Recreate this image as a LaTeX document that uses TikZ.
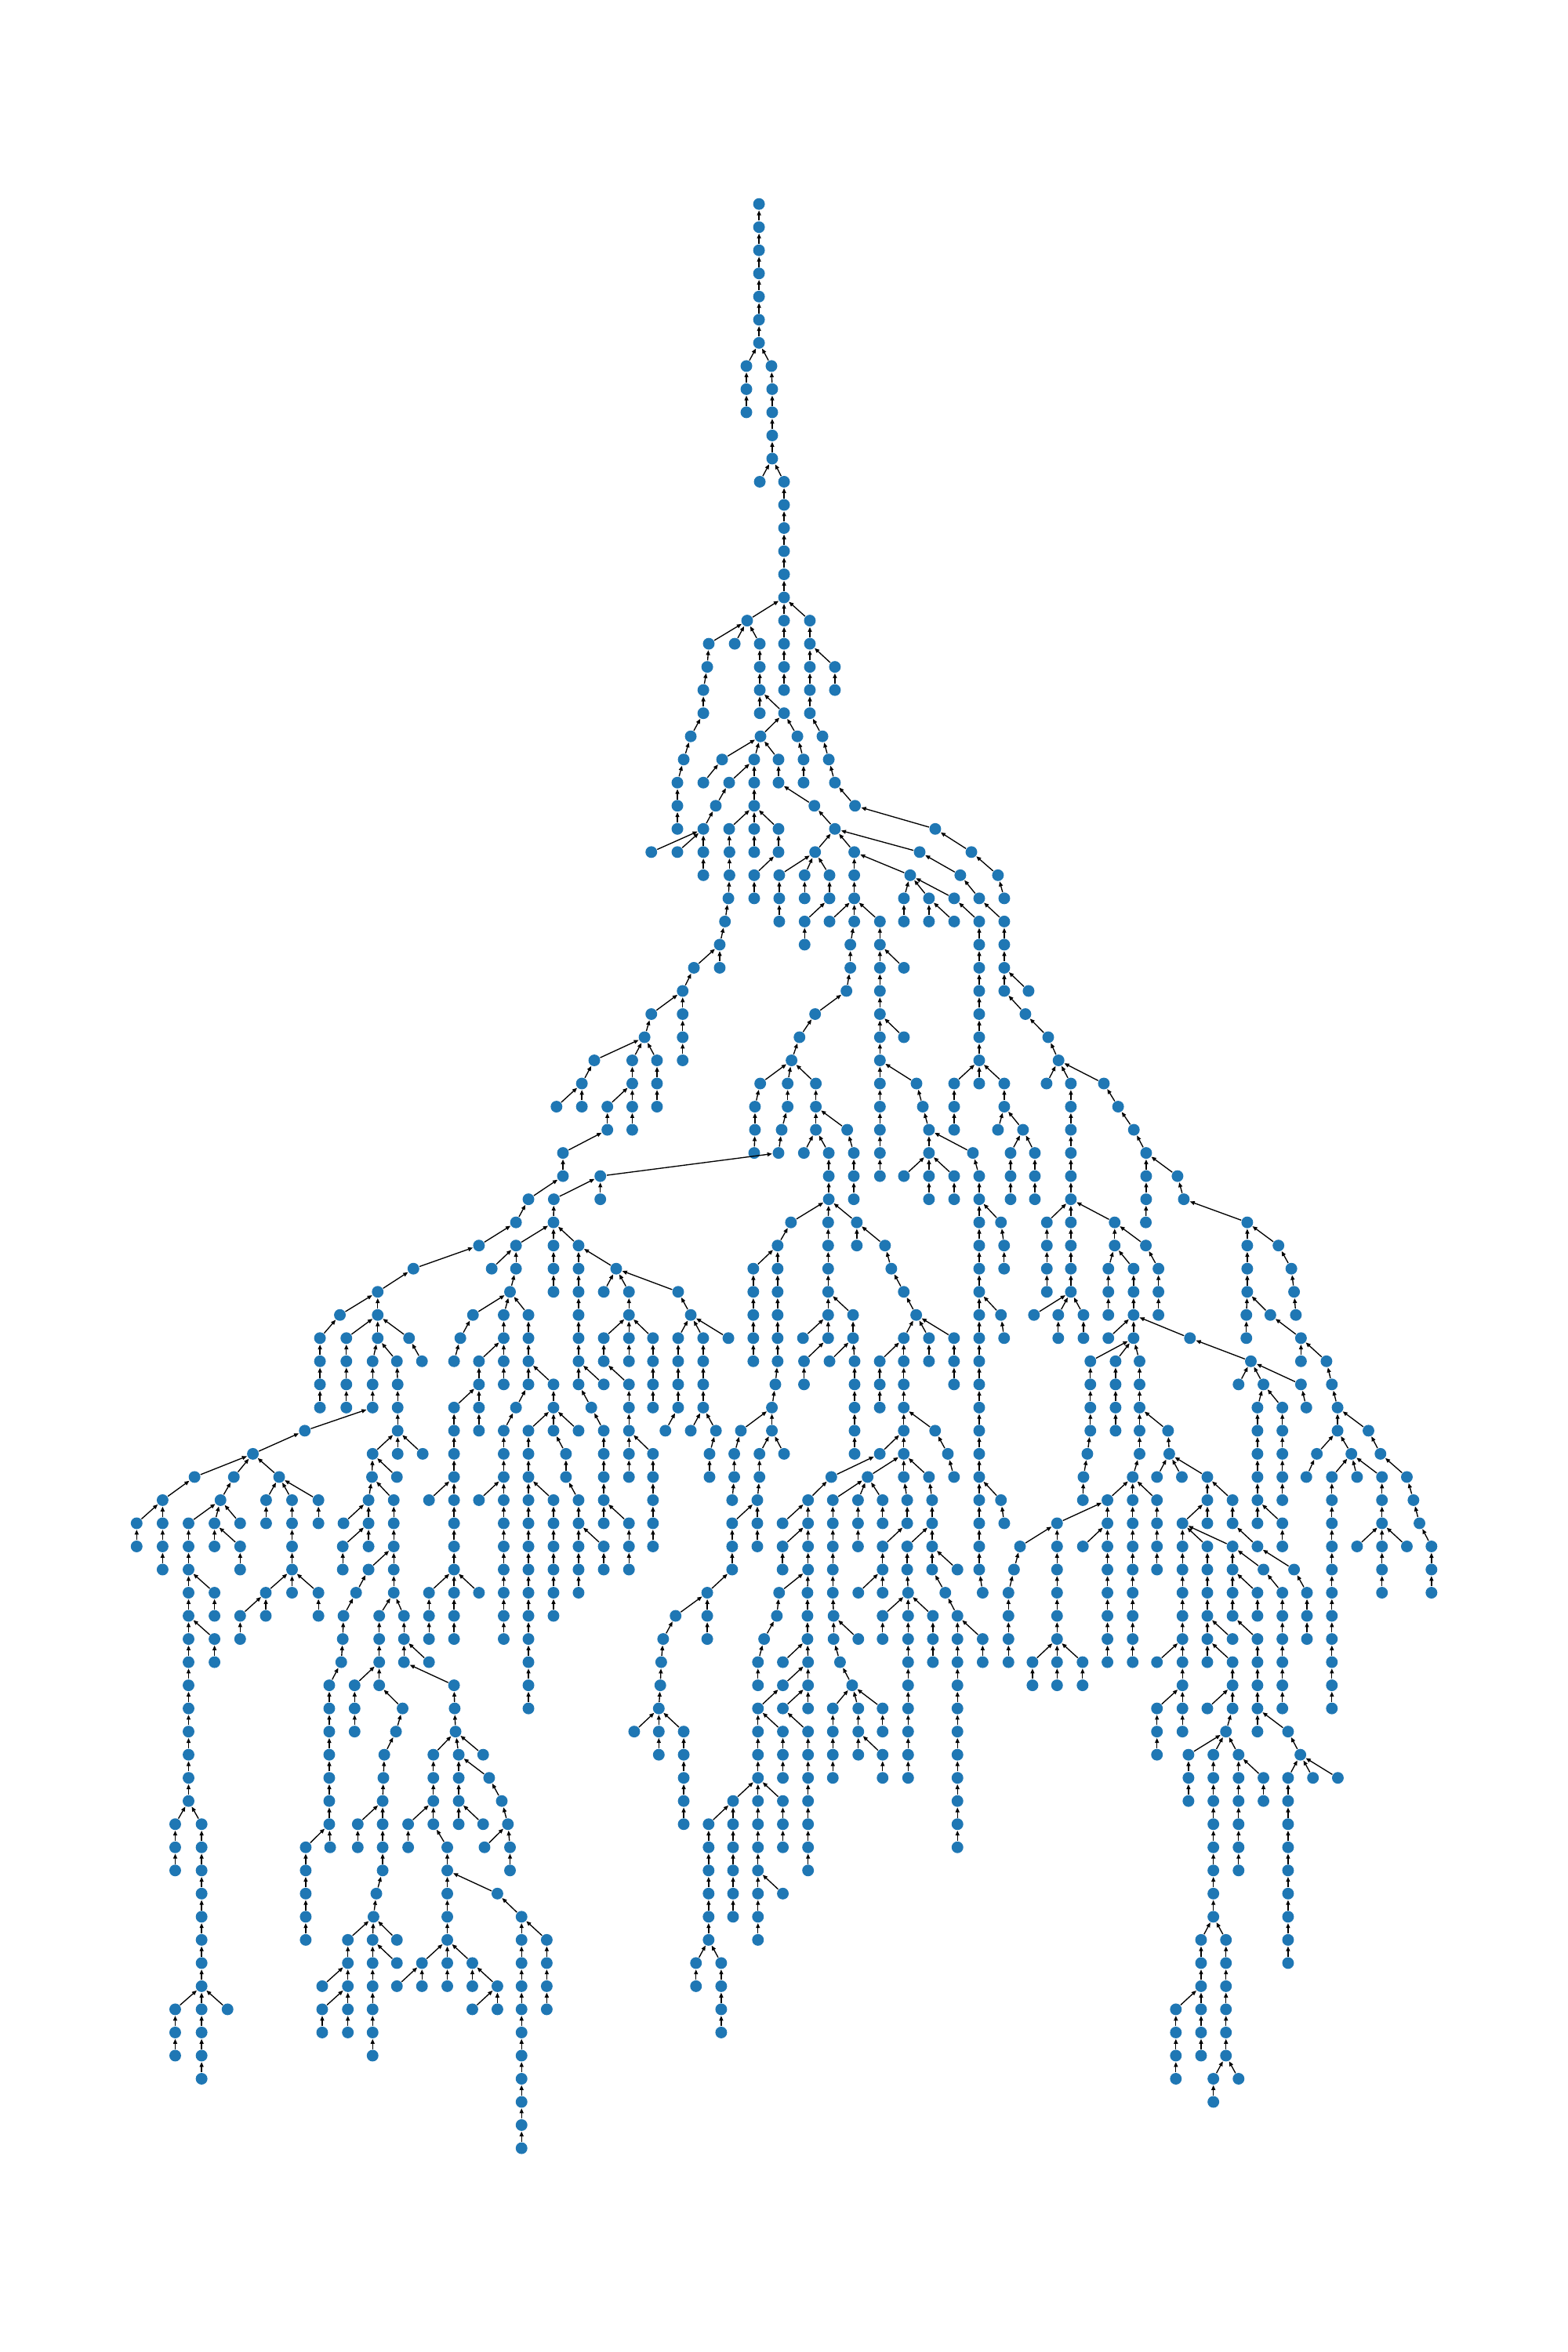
\documentclass[tikz,border=0pt]{standalone}
\usetikzlibrary{arrows.meta}
\definecolor{nxblue}{RGB}{31,119,180}
\tikzset{
  nd/.style={circle, fill=nxblue, draw=none, inner sep=0pt, minimum size=3.9pt},
  arr/.style={-{Triangle[length=1.6pt,width=1.3pt]}, line width=0.35pt, black},
}
\def\nodelist{1/506/0/0,2/506/1/1,3/506/2/2,4/506/3/3,5/506/4/4,6/506/5/5,7/506/6/6,8/497.6/7/7,9/497.6/8/8,10/497.6/9/9,
11/514.3/7/7,12/514.8/8/11,13/514.8/9/12,14/514.8/10/13,15/514.8/11/14,16/506.5/12/15,17/522.7/12/15,18/522.7/13/17,19/522.7/14/18,20/522.7/15/19,
21/522.7/16/20,22/522.7/17/21,23/498.1/18/22,24/522.7/18/22,25/539.9/18/22,26/472.5/19/23,27/489.8/19/23,28/506.5/19/23,29/522.7/19/24,30/522.7/20/29,
31/522.7/21/30,32/539.9/19/25,33/539.9/20/32,34/556.6/20/32,35/556.6/21/34,36/539.9/21/33,37/539.9/22/36,38/548.3/23/37,39/552.5/24/38,40/556.6/25/39,
41/570.0/26/40,42/623.5/27/41,43/471.5/20/26,44/468.9/21/43,45/468.9/22/44,46/460.5/23/45,47/455.8/24/46,48/451.6/25/47,49/451.6/26/48,50/451.6/27/49,
51/506.5/20/28,52/506.5/21/51,53/506.5/22/52,54/522.7/22/52,55/507.0/23/54,56/531.6/23/54,57/535.7/24/56,58/535.7/25/57,59/481.4/24/55,60/502.8/24/55,
61/519.0/24/55,62/468.9/25/59,63/502.8/25/60,64/502.8/26/63,65/486.1/25/60,66/477.2/26/65,67/468.9/27/66,68/519.0/25/61,69/542.9/26/68,70/556.6/27/69,
71/486.1/27/64,72/502.8/27/64,73/519.0/27/64,74/434.2/28/67,75/451.6/28/67,76/468.9/28/67,77/486.3/28/71,78/502.8/28/72,79/519.0/28/73,80/543.4/28/70,
81/569.5/28/70,82/468.9/29/76,83/486.3/29/77,84/502.8/29/79,85/519.5/29/80,86/536.4/29/80,87/553.0/29/80,88/569.5/29/81,89/485.6/30/83,90/502.8/30/84,
91/519.5/30/85,92/536.4/30/86,93/553.0/30/87,94/569.5/30/88,95/483.3/31/89,96/519.5/31/91,97/536.4/31/93,98/553.0/31/94,99/569.5/31/94,100/586.6/31/94,
101/479.8/32/95,102/536.4/32/97,103/566.9/32/99,104/586.6/32/100,105/462.6/33/101,106/479.8/33/101,107/566.9/33/103,108/586.6/33/104,109/455.1/34/105,110/564.3/34/107,
111/586.6/34/108,112/434.2/35/109,113/455.1/35/109,114/543.4/35/110,115/586.6/35/111,116/429.7/36/112,117/455.1/36/113,118/533.0/36/114,119/586.6/36/115,120/396.2/37/116,
121/421.5/37/116,122/438.0/37/116,123/455.1/37/117,124/527.7/37/118,125/586.6/37/119,126/387.9/38/120,127/421.5/38/121,128/438.0/38/122,129/506.8/38/124,130/525.1/38/124,
131/543.9/38/124,132/586.6/38/125,133/371.0/39/126,134/387.9/39/126,135/404.9/39/127,136/421.5/39/127,137/438.0/39/128,138/503.3/39/129,139/525.1/39/130,140/543.9/39/131,
141/586.6/39/132,142/404.9/40/135,143/421.5/40/136,144/503.3/40/138,145/521.1/40/139,146/543.9/40/140,147/564.8/40/140,148/586.6/40/141,149/375.3/41/142,150/502.8/41/144,
151/519.0/41/145,152/535.9/41/146,153/552.5/41/146,154/569.2/41/147,155/586.6/41/148,156/375.3/42/149,157/400.2/42/151,158/552.5/42/153,159/569.2/42/154,160/586.6/42/155,
161/369.2/43/157,162/400.2/43/157,163/552.5/43/158,164/569.2/43/159,165/613.1/28/70,166/647.6/28/42,167/606.8/29/81,168/640.2/29/165,169/665.3/29/166,170/602.6/30/167,
171/619.3/30/167,172/636.1/30/167,173/652.8/30/168,174/669.5/30/169,175/602.6/31/170,176/619.3/31/171,177/636.1/31/171,178/652.8/31/172,179/669.5/31/173,180/652.8/32/178,
181/669.5/32/179,182/602.6/33/104,183/652.8/33/180,184/669.5/33/181,185/652.8/34/183,186/669.5/34/184,187/685.7/34/184,188/652.8/35/185,189/683.6/35/186,190/602.6/36/115,
191/652.8/36/188,192/698.8/36/189,193/652.8/37/191,194/705.7/37/192,195/611.0/38/125,196/636.1/38/193,197/652.8/38/193,198/669.5/38/193,199/697.7/38/194,200/713.9/38/194,
201/735.9/38/194,202/615.2/39/195,203/636.1/39/196,204/669.5/39/198,205/713.9/39/200,206/745.4/39/201,207/619.3/40/202,208/636.1/40/203,209/665.3/40/204,210/682.0/40/204,
211/713.9/40/205,212/755.9/40/206,213/619.3/41/207,214/648.6/41/207,215/673.7/41/210,216/689.9/41/210,217/713.9/41/211,218/764.1/41/212,219/602.6/42/213,220/619.3/42/213,
221/636.1/42/213,222/652.8/42/214,223/673.7/42/215,224/689.9/42/216,225/713.9/42/217,226/764.1/42/218,227/785.0/42/218,228/619.3/43/220,229/636.1/43/221,230/652.8/43/222,
231/673.7/43/223,232/689.9/43/224,233/713.9/43/225,234/764.1/43/226,235/789.2/43/227,236/352.3/43/156,237/344.0/44/236,238/319.3/45/237,239/369.0/44/161,240/344.0/45/239,
241/369.0/45/239,242/385.7/45/239,243/275.6/46/238,244/327.8/46/240,245/344.0/46/240,246/369.0/46/241,247/369.0/47/246,248/251.8/47/243,249/340.0/47/245,250/226.6/48/248,
251/251.8/48/248,252/315.3/48/249,253/335.8/48/249,254/352.3/48/249,255/213.3/49/250,256/230.9/49/251,257/251.8/49/251,258/272.7/49/251,259/306.9/49/252,260/335.8/49/253,
261/352.3/49/254,262/213.3/50/255,263/230.9/50/256,264/248.4/50/257,265/264.6/50/257,266/281.3/50/258,267/302.7/50/259,268/319.3/50/260,269/335.8/50/260,270/352.3/50/261,
271/213.3/51/262,272/230.9/51/263,273/248.4/51/264,274/265.1/51/265,275/319.3/51/268,276/335.8/51/269,277/352.3/51/270,278/369.0/51/270,279/213.3/52/271,280/230.9/52/272,
281/248.4/52/273,282/265.1/52/274,283/302.7/52/275,284/319.3/52/275,285/344.0/52/277,286/369.0/52/278,287/203.2/53/281,288/265.1/53/282,289/302.7/53/283,290/319.3/53/284,
291/335.8/53/285,292/352.3/53/286,293/369.0/53/286,294/385.7/53/286,295/168.6/54/287,296/248.4/54/288,297/265.1/54/288,298/281.8/54/288,299/302.7/54/289,300/335.8/54/291,
301/352.3/54/292,302/377.3/54/293,303/129.7/55/295,304/155.9/55/295,305/186.1/55/295,306/248.0/55/296,307/264.6/55/296,308/302.7/55/299,309/335.8/55/300,310/352.3/55/301,
311/377.3/55/302,312/108.4/56/303,313/147.0/56/304,314/177.4/56/305,315/194.7/56/305,316/212.3/56/305,317/245.7/56/306,318/262.5/56/306,319/286.0/56/308,320/302.7/56/308,
321/319.3/56/309,322/335.8/56/309,323/352.3/56/310,324/369.0/56/310,325/385.7/56/311,326/91.1/57/312,327/108.4/57/312,328/125.7/57/313,329/143.0/57/313,330/160.1/57/313,
331/177.4/57/314,332/194.7/57/315,333/212.3/57/316,334/229.0/57/317,335/245.7/57/317,336/262.5/57/318,337/302.7/57/320,338/335.8/57/322,339/352.3/57/323,340/369.0/57/324,
341/385.7/57/325,342/91.1/58/326,343/108.4/58/327,344/125.7/58/328,345/143.0/58/329,346/160.1/58/329,347/194.7/58/332,348/228.5/58/335,349/245.7/58/335,350/262.5/58/336,
351/302.7/58/337,352/335.8/58/338,353/352.3/58/339,354/369.0/58/340,355/385.7/58/341,356/402.5/58/341,357/108.4/59/343,358/125.7/59/344,359/160.1/59/346,360/194.7/59/347,
361/228.5/59/348,362/245.7/59/350,363/262.5/59/350,364/302.7/59/351,365/335.8/59/352,366/352.3/59/353,367/369.0/59/354,368/385.7/59/355,369/402.5/59/356,370/385.7/46/242,
371/410.8/46/242,372/385.7/47/370,373/385.7/48/372,374/385.7/49/373,375/385.7/50/374,376/385.7/51/375,377/402.5/51/375,378/394.2/52/376,379/402.5/53/378,380/402.5/54/379,
381/402.5/55/380,382/402.5/56/381,383/402.5/57/382,384/419.3/57/382,385/419.3/58/384,386/419.3/59/385,387/402.5/47/371,388/419.3/47/371,389/452.1/47/371,390/419.3/48/388,
391/402.5/49/390,392/419.3/49/390,393/435.3/49/390,394/402.5/50/391,395/419.3/50/392,396/419.3/51/394,397/419.3/52/396,398/419.3/53/397,399/419.3/54/398,400/435.3/54/398,
401/419.3/55/399,402/435.3/55/400,403/435.3/56/402,404/435.3/57/403,405/435.3/58/404,406/435.3/50/393,407/435.3/51/406,408/435.3/52/407,409/460.5/48/389,410/452.1/49/409,
411/468.8/49/409,412/485.6/49/409,413/452.1/50/410,414/452.1/51/413,415/452.1/52/414,416/443.6/53/415,417/468.8/50/411,418/468.8/51/417,419/468.8/52/418,420/460.5/53/419,
421/477.3/53/419,422/473.0/54/421,423/473.0/55/422,424/527.3/44/163,425/552.1/44/163,426/571.2/44/163,427/518.4/45/424,428/502.2/46/427,429/518.4/46/427,430/502.2/47/428,
431/502.2/48/430,432/502.2/49/431,433/502.2/50/432,434/518.4/47/429,435/518.4/48/434,436/518.4/49/435,437/518.4/50/436,438/516.9/51/437,439/514.6/52/438,440/493.9/53/439,
441/514.6/53/439,442/489.5/54/440,443/489.5/55/442,444/488.1/56/443,445/506.3/54/441,446/522.7/54/441,447/506.3/55/445,448/504.9/56/447,449/488.1/57/448,450/504.9/57/448,
451/504.9/58/450,452/488.1/58/449,453/488.1/59/452,454/552.1/45/425,455/552.1/46/454,456/552.1/47/455,457/552.1/48/456,458/568.7/48/456,459/535.3/49/457,460/552.1/49/457,
461/536.0/50/460,462/536.0/51/461,463/568.7/49/458,464/553.0/50/463,465/569.7/50/463,466/569.7/51/465,467/569.7/52/466,468/569.7/53/467,469/569.7/54/468,470/571.2/45/426,
471/590.0/45/426,472/594.2/46/471,473/602.5/47/472,474/610.8/48/473,475/602.5/49/474,476/619.3/49/474,477/636.0/49/474,478/586.5/50/475,479/602.5/50/475,480/586.5/51/478,
481/586.5/52/480,482/602.5/51/479,483/602.5/52/482,484/602.5/53/483,485/623.4/53/483,486/631.9/54/485,487/636.0/55/486,488/586.5/54/484,489/602.5/54/484,490/554.2/55/488,
491/538.7/56/490,492/521.7/57/491,493/538.7/57/491,494/521.7/58/493,495/538.7/58/493,496/521.7/59/494,497/538.7/59/495,498/578.4/55/489,499/602.5/55/489,500/619.3/55/489,
501/555.2/56/498,502/572.0/56/498,503/588.4/56/498,504/555.2/57/501,505/555.2/58/504,506/555.2/59/505,507/572.0/57/502,508/572.0/58/507,509/588.4/57/503,510/604.8/56/499,
511/604.8/57/510,512/588.4/58/511,513/588.4/59/512,514/621.4/56/500,515/621.4/57/514,516/604.8/58/515,517/604.8/59/516,518/621.4/58/515,519/621.4/59/518,520/638.3/59/518,
521/619.3/50/476,522/636.0/50/477,523/636.0/51/522,524/652.8/44/230,525/667.3/44/230,526/652.8/45/524,527/652.8/46/526,528/652.8/47/527,529/652.8/48/528,530/667.3/48/528,
531/652.8/49/529,532/652.8/50/531,533/652.8/51/532,534/652.8/52/533,535/652.8/53/534,536/652.8/54/535,537/652.8/55/536,538/652.8/56/537,539/652.8/57/538,540/652.8/58/539,
541/652.8/59/540,542/667.3/56/537,543/669.5/57/542,544/669.4/45/525,545/669.4/46/544,546/669.4/49/530,547/697.9/44/233,548/713.9/44/233,549/743.1/44/233,550/697.9/45/547,
551/697.9/46/550,552/697.9/47/551,553/713.9/45/548,554/713.9/46/553,555/713.9/47/554,556/689.3/48/555,557/705.5/48/555,558/722.3/48/555,559/705.5/49/557,560/722.3/49/558,
561/743.1/45/549,562/763.9/45/549,563/772.3/46/562,564/772.3/47/563,565/772.3/48/564,566/738.9/46/561,567/755.7/46/561,568/738.9/47/566,569/738.9/48/568,570/755.7/47/567,
571/755.7/48/570,572/738.9/49/571,573/755.7/49/571,574/793.3/49/571,575/726.9/50/573,576/743.7/50/573,577/759.7/50/573,578/833.9/50/574,579/726.9/51/575,580/726.9/52/579,
581/726.9/53/580,582/724.9/54/581,583/722.3/55/582,584/721.9/56/583,585/743.7/51/576,586/743.7/52/585,587/743.7/53/586,588/759.7/51/577,589/759.7/52/588,590/759.7/53/589,
591/778.7/53/589,592/759.7/54/590,593/755.1/55/592,594/738.3/56/593,595/755.1/56/593,596/771.3/56/593,597/704.7/57/594,598/738.3/57/594,599/680.0/58/597,600/704.7/58/597,
601/676.0/59/599,602/704.7/59/600,603/721.9/58/598,604/738.3/58/598,605/738.3/59/604,606/755.1/57/595,607/755.1/58/606,608/755.1/59/607,609/771.3/57/596,610/771.3/58/609,
611/771.3/59/610,612/779.5/54/591,613/771.3/55/612,614/787.9/55/612,615/804.9/55/612,616/804.9/56/615,617/821.7/56/615,618/788.3/57/616,619/804.9/57/616,620/821.7/57/617,
621/788.3/58/618,622/804.9/58/618,623/821.7/58/618,624/788.3/59/621,625/804.9/59/622,626/821.7/59/623,627/838.3/58/620,628/842.3/59/623,629/862.7/59/627,630/831.5/44/235,
631/831.5/45/630,632/852.3/45/630,633/831.5/46/631,634/831.5/47/633,635/830.9/48/634,636/830.9/49/635,637/846.9/48/634,638/867.3/49/637,639/867.3/50/638,640/884.3/50/638,
641/860.9/46/632,642/862.7/47/641,643/863.9/48/642,644/825.7/51/578,645/842.3/51/578,646/867.3/51/578,647/838.3/52/645,648/854.9/52/645,649/870.9/52/646,650/838.3/53/647,
651/854.9/53/648,652/838.3/54/650,653/854.9/54/651,654/838.3/55/652,655/854.9/55/653,656/838.3/56/654,657/854.9/56/655,658/838.3/57/656,659/854.9/57/656,660/854.9/58/659,
662/887.9/51/640,663/891.7/52/662,664/891.7/53/663,665/912.3/53/663,666/877.9/54/664,667/900.9/54/664,668/920.3/54/665,669/870.9/55/666,670/887.9/55/667,
671/904.7/55/667,672/921.3/55/667,673/937.9/55/668,674/887.9/56/670,675/921.3/56/672,676/942.3/56/673,677/887.9/57/674,678/921.3/57/675,679/946.3/57/676,680/887.9/58/677,
681/904.7/58/678,682/921.3/58/678,683/937.9/58/678,684/954.3/58/679,685/887.9/59/680,686/921.3/59/682,687/954.3/59/684,688/125.7/60/358,689/143.0/60/358,690/125.7/61/688,
691/143.0/61/689,692/125.7/62/690,693/143.0/62/690,694/125.7/63/692,695/143.0/63/693,696/125.7/64/694,697/125.7/65/696,698/125.7/66/697,699/125.7/67/698,700/125.7/68/699,
701/125.7/69/700,702/116.8/70/701,703/134.4/70/701,704/116.8/71/702,705/116.8/72/704,706/134.4/71/703,707/134.4/72/706,708/134.4/73/707,709/134.4/74/708,710/134.4/75/709,
711/134.4/76/710,712/134.4/77/711,713/116.8/78/712,714/134.4/78/712,715/151.7/78/712,716/116.8/79/713,717/116.8/80/716,718/134.4/79/714,719/134.4/80/718,720/134.4/81/719,
721/177.2/60/360,722/194.7/60/360,723/212.3/60/360,724/160.1/61/721,725/177.2/61/721,726/212.3/61/723,727/160.1/62/724,728/237.4/60/362,729/229.0/61/728,730/228.5/62/729,
731/227.5/63/730,732/219.5/64/731,733/219.5/65/732,734/219.5/66/733,735/219.5/67/734,736/219.5/68/735,737/219.5/69/736,738/219.5/70/737,739/203.8/71/738,740/220.1/71/738,
741/203.8/72/739,742/203.8/73/741,743/203.8/74/742,744/203.8/75/743,745/262.5/60/363,746/252.8/61/745,747/269.3/61/745,748/252.8/62/746,749/252.8/63/748,750/236.4/64/749,
751/252.8/64/749,752/236.4/65/750,753/236.4/66/752,754/269.3/62/747,755/269.3/63/754,756/286.0/63/754,757/302.7/64/755,758/303.1/65/757,759/303.7/66/758,760/288.9/67/759,
761/305.8/67/759,762/322.1/67/759,763/268.4/65/751,764/264.0/66/763,765/256.2/67/764,766/255.6/68/765,767/255.1/69/766,768/238.5/70/767,769/255.1/70/767,770/238.5/71/768,
771/255.1/71/769,772/255.1/72/771,773/250.9/73/772,774/249.0/74/773,775/231.9/75/774,776/248.4/75/774,777/264.6/75/774,778/231.9/76/775,779/248.4/76/776,780/264.6/76/776,
781/288.9/68/760,782/288.9/69/781,783/288.9/70/782,784/272.1/70/782,785/272.1/71/784,786/298.2/71/783,787/298.2/72/786,788/298.2/73/787,789/331.6/73/787,790/298.2/74/788,
791/298.2/75/790,792/281.3/76/791,793/298.2/76/791,794/314.9/76/791,795/347.7/74/789,796/347.7/75/795,797/364.5/75/795,798/347.7/76/796,799/364.5/76/797,800/305.8/68/761,
801/326.1/68/761,802/305.8/69/800,803/305.8/70/802,804/322.1/70/802,805/334.5/69/801,806/338.6/70/805,807/323.0/71/806,808/340.0/71/806,809/340.0/72/808,810/286.0/60/364,
811/302.7/60/364,812/319.3/60/364,813/286.0/61/810,814/286.0/62/813,815/302.7/61/811,816/302.7/62/815,817/335.8/60/365,818/335.8/61/817,819/335.8/62/818,820/352.3/60/366,
821/352.3/61/820,822/352.3/62/821,823/352.3/63/822,824/352.3/64/823,825/352.3/65/824,826/369.0/60/367,827/369.0/61/826,828/385.7/60/368,829/214.8/77/778,830/231.9/77/778,
831/214.8/78/830,832/214.8/79/831,833/231.9/78/830,834/231.9/79/833,835/248.4/77/779,836/248.4/78/835,837/248.4/79/836,838/248.4/80/837,839/264.6/77/792,840/281.3/77/792,
841/298.2/77/793,842/314.9/77/794,843/331.6/77/794,844/314.9/78/843,845/331.6/78/843,846/347.7/77/798,847/347.7/78/846,848/347.7/79/847,849/347.7/80/848,850/347.7/81/849,
851/347.7/82/850,852/347.7/83/851,853/347.7/84/852,854/364.5/77/799,855/364.5/78/854,856/471.5/60/453,857/450.4/61/856,858/471.5/61/856,859/442.1/62/857,860/471.5/62/858,
861/440.8/63/859,862/440.2/64/861,1098/439.2/65/862,863/422.8/66/1098,864/439.2/66/1098,865/455.8/66/1098,866/439.2/67/864,868/455.8/67/865,869/455.8/68/868,870/455.8/69/869,
871/455.8/70/870,873/519.4/60/497,874/538.3/60/497,875/517.9/61/873,876/509.4/62/875,877/505.3/63/876,878/505.3/64/877,879/538.3/61/874,880/538.3/62/879,
881/521.9/63/880,882/538.7/63/880,883/521.9/64/882,884/538.7/64/882,885/505.3/65/883,886/521.9/65/884,887/538.7/65/884,888/505.3/66/885,889/521.9/66/885,890/538.7/66/886,
891/505.3/67/888,892/505.3/68/891,893/488.7/69/892,894/505.3/69/892,895/521.9/69/892,896/472.4/70/893,897/488.7/70/893,898/505.3/70/894,899/521.9/70/895,900/472.4/71/896,
901/488.7/71/897,902/505.3/71/898,903/521.9/71/899,904/472.4/72/900,905/488.7/72/901,906/505.3/72/902,907/472.4/73/904,908/488.7/73/905,909/505.3/73/906,910/521.9/73/906,
911/472.4/74/907,912/488.7/74/908,913/505.3/74/909,914/472.4/75/911,915/505.3/75/913,916/464.0/76/914,917/480.8/76/914,918/464.0/77/916,919/480.8/77/917,920/480.8/78/919,
921/480.8/79/920,922/521.9/67/889,923/521.9/68/922,924/538.7/67/890,925/538.7/68/924,926/538.7/69/925,927/538.7/70/926,928/538.7/71/927,929/538.7/72/928,930/555.2/60/506,
931/555.7/61/930,932/555.7/62/931,933/572.2/62/931,934/560.0/63/932,935/568.1/64/934,936/555.2/65/935,937/572.2/65/935,938/588.4/65/935,939/555.2/66/936,940/555.2/67/939,
941/555.2/68/940,942/572.2/66/937,943/572.2/67/942,944/588.4/66/938,945/588.4/67/942,946/588.4/68/945,947/572.2/60/513,948/588.4/60/513,949/605.4/60/517,950/588.4/61/949,
951/605.4/61/949,952/621.9/61/949,953/588.4/62/950,954/605.4/62/951,955/605.4/63/954,956/605.4/64/955,957/605.4/65/956,958/605.4/66/957,959/605.4/67/958,960/605.4/68/959,
961/621.9/62/952,962/621.9/63/961,963/630.2/60/519,964/638.3/61/963,965/638.3/62/964,966/655.1/62/964,967/655.1/63/966,968/638.3/63/965,969/638.3/64/968,970/638.3/65/969,
971/638.3/66/970,972/638.3/67/971,973/638.3/68/972,974/638.3/69/973,975/638.3/70/974,976/638.3/71/975,977/655.1/60/541,978/672.3/60/601,979/672.3/61/978,980/672.3/62/979,
981/672.3/63/980,982/704.7/60/602,983/704.7/61/982,984/704.7/62/983,985/688.3/63/984,986/704.7/63/984,987/721.7/63/984,988/688.3/64/985,989/704.7/64/986,990/721.7/64/987,
991/738.3/60/605,992/738.3/61/991,993/738.3/62/992,994/738.3/63/993,995/755.1/60/608,996/755.1/61/995,997/755.1/62/996,998/755.1/63/997,999/788.3/60/624,1000/788.3/61/999,
1001/788.3/62/1000,1002/771.3/63/1001,1003/788.3/63/1001,1004/788.3/64/1003,1005/771.3/65/1004,1006/788.3/65/1004,1007/771.3/66/1005,1008/788.3/66/1006,1009/771.3/67/1007,1010/804.9/60/625,
1011/804.9/61/1010,1012/804.9/62/1011,1013/821.7/62/1011,1014/804.9/63/1012,1015/821.7/63/1012,1016/821.7/64/1015,1017/804.9/65/1016,1018/821.7/65/1016,1019/817.3/66/1018,1020/792.3/67/1019,
1021/808.9/67/1019,1022/825.7/67/1019,1023/821.7/60/626,1024/821.7/61/1023,1025/838.3/60/626,1026/838.3/61/1025,1027/838.3/62/1024,1028/838.3/63/1027,1029/838.3/64/1028,1030/838.3/65/1029,
1031/838.3/66/1030,1032/858.7/66/1030,1033/866.9/67/1032,1034/858.7/68/1033,1035/875.3/68/1033,1036/891.9/68/1033,1037/858.7/69/1034,1038/858.7/70/1037,1039/858.7/71/1038,1040/858.7/72/1039,
1041/858.7/73/1040,1042/858.7/74/1041,1043/858.7/75/1042,1044/858.7/76/1043,1045/854.9/60/628,1046/854.9/61/1045,1047/854.9/62/1046,1048/854.9/63/1047,1049/854.9/64/1048,1050/854.9/65/1049,
1051/871.3/60/629,1052/871.3/61/1051,1053/871.3/62/1052,1054/887.9/60/685,1055/887.9/61/1054,1056/887.9/62/1055,1057/887.9/63/1056,1058/887.9/64/1057,1059/887.9/65/1058,1060/921.3/60/686,
1061/954.3/60/687,1062/792.3/68/1020,1063/792.3/69/1062,1064/808.9/68/1021,1065/808.9/69/1064,1066/808.9/70/1065,1067/808.9/71/1066,1068/808.9/72/1067,1069/808.9/73/1068,1070/808.9/74/1069,
1071/800.7/75/1070,1072/817.3/75/1070,1073/800.7/76/1071,1074/817.3/76/1072,1075/825.7/68/1022,1076/825.7/69/1075,1077/825.7/70/1076,1078/825.7/71/1077,1079/825.7/72/1078,1080/842.3/68/1022,
1081/842.3/69/1080,1082/800.7/77/1073,1083/783.9/78/1082,1084/800.7/78/1082,1085/783.9/79/1083,1086/783.9/80/1085,1087/783.9/81/1086,1088/800.7/79/1084,1089/800.7/80/1088,1090/817.3/77/1074,
1091/817.3/78/1090,1092/817.3/79/1091,1093/817.3/80/1092,1094/808.9/81/1093,1095/825.7/81/1093,1096/808.9/82/1094,1097/763.9/44/234}
\begin{document}
\begin{tikzpicture}[x=0.5pt,y=-0.5pt]
\useasboundingbox (0,0) rectangle (1045,1568);
\fill[white] (0,0) rectangle (1045,1568);
\foreach \i/\x/\l/\p in \nodelist {\node[nd] (n\i) at (\x,{136+15.43*\l}) {};}
\foreach \i/\x/\l/\p in \nodelist {\ifnum\p>0 \draw[arr] (n\i) -- (n\p);\fi}
\end{tikzpicture}
\end{document}
